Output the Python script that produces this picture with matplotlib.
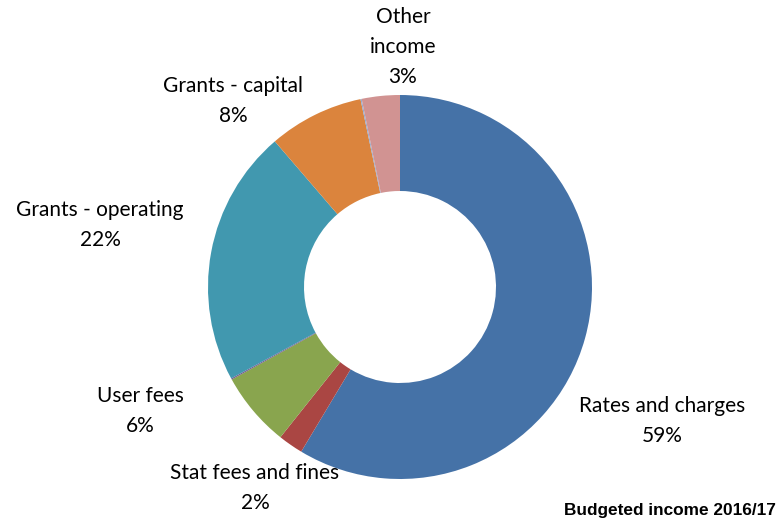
import matplotlib
matplotlib.use("Agg")
import matplotlib.pyplot as plt

# budget shares (%), clockwise from twelve o'clock
categories = ["Rates and charges", "Stat fees and fines", "User fees", "Contributions",
              "Grants - operating", "Grants - capital", "Interest", "Other income"]
shares = [58.6, 2.1, 6.3, 0.1, 21.6, 8.0, 0.1, 3.2]
colours = ["#4572A7", "#AA4643", "#89A54E", "#71588F",
           "#4198AF", "#DB843D", "#93A9CF", "#D19392"]

# text lines for the labelled slices and where they sit (pixels from top-left)
label_text = {
    "Rates and charges": ("Rates and charges", (662, 421)),
    "Stat fees and fines": ("Stat fees and fines", (255, 488)),
    "User fees": ("User fees", (140, 411)),
    "Grants - operating": ("Grants - operating", (100, 225)),
    "Grants - capital": ("Grants - capital", (233, 101)),
    "Other income": ("Other\nincome", (403, 47)),
}

W, H = 780, 526
fig = plt.figure(figsize=(W / 100, H / 100), dpi=100)
ax = fig.add_axes([0, 0, 1, 1])

ax.pie(shares, colors=colours, startangle=90, counterclock=False,
       center=(400, H - 287), radius=192,
       wedgeprops=dict(width=96, linewidth=0))

# pie() resets the limits, so set the pixel frame afterwards
ax.set_xlim(0, W)
ax.set_ylim(0, H)
ax.set_aspect("equal")
ax.axis("off")

for name, value in zip(categories, shares):
    if name not in label_text:
        continue
    text, (px, py) = label_text[name]
    ax.text(px, H - py, f"{text}\n{value:.0f}%", ha="center", va="center",
            fontsize=15, family="Lato", color="black", linespacing=1.6)

ax.text(776, H - 511, "Budgeted income 2016/17", ha="right", va="center",
        fontsize=12.4, fontweight="bold", family="Liberation Sans", color="black")

fig.savefig("out.png", dpi=100)
